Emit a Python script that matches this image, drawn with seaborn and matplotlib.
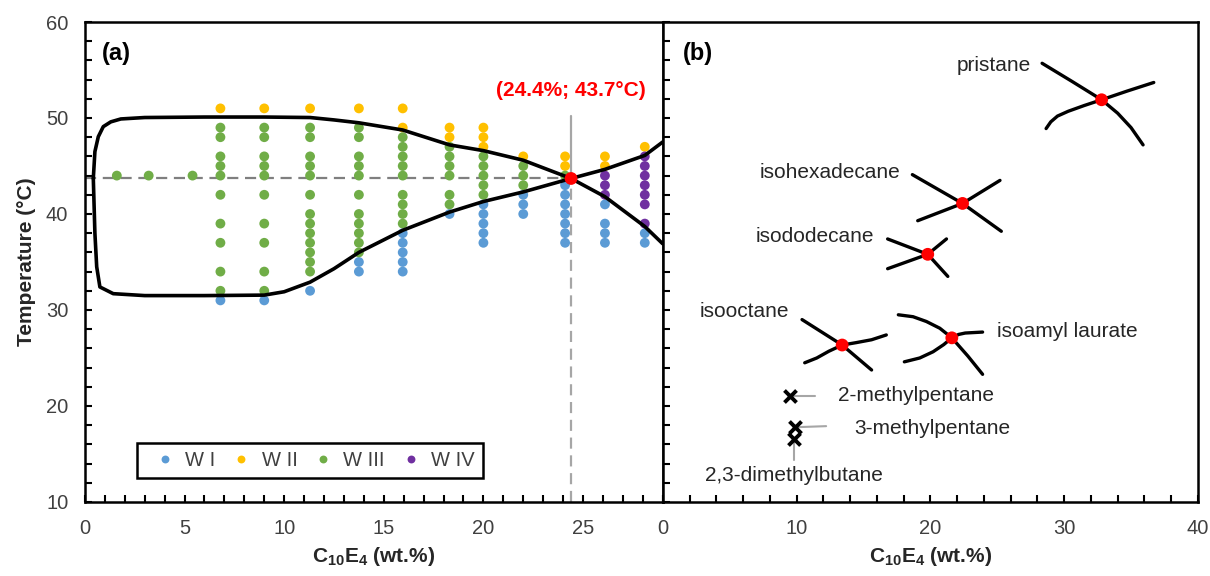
# encoding: UTF-8

import matplotlib
matplotlib.use('Agg')
import matplotlib.pyplot as plt
import seaborn as sns
import pandas as pd
from matplotlib.ticker import MultipleLocator

# ---- panel (a): phase points, one list of temperatures per concentration column
conc = [6.8, 9.0, 11.3, 13.75, 15.95, 18.3, 20.0, 22.0, 24.1, 26.1, 28.1]
tempW1 = [[31], [31], [32], [35, 34], [38, 37, 36, 35, 34], [40],
	[41, 40, 39, 38, 37], [42, 41, 40], [43, 42, 41, 40, 39, 38, 37],
	[41, 39, 38, 37], [38, 37]]
tempW2 = [[51], [51], [51], [51], [51, 49], [49, 48], [49, 48, 47], [46],
	[46, 45], [46, 45], [47]]
tempW3 = [[49, 48, 46, 45, 44, 42, 39, 37, 34, 32],
	[49, 48, 46, 45, 44, 42, 39, 37, 34, 32],
	[49, 48, 46, 45, 44, 42, 40, 39, 38, 37, 36, 35, 34],
	[49, 48, 46, 45, 44, 42, 40, 39, 38, 37, 36],
	[48, 47, 46, 45, 44, 42, 41, 40, 39],
	[47, 46, 45, 44, 42, 41],
	[46, 45, 44, 43, 42],
	[45, 44, 43],
	[44], [], []]
tempW4 = [[], [], [], [], [], [], [], [], [], [44, 43, 42], [46, 45, 44, 43, 42, 41, 39]]
lowConc = [1.6, 3.2, 5.4]
lowTemp = [44, 44, 44]

# phase boundaries
upperConc = [0.42, 0.5, 0.67, 0.92, 1.3, 1.8, 3, 6, 9, 11.3, 12.5, 13.75, 15.95, 18.3, 20.0, 22.0, 24.4, 26.1, 28.1, 29.0]
upperTemp = [43.7, 46.5, 48.05, 49.1, 49.6, 49.9, 50.05, 50.1, 50.1, 50.05, 49.8, 49.5, 48.75, 47.2, 46.6, 45.6, 43.7, 41.8, 38.7, 36.9]
lowerConc = [0.42, 0.5, 0.59, 0.75, 1.42, 3, 6, 9.0, 10.0, 11.3, 12.5, 13.75, 15.95, 18.3, 20.0, 22.0, 24.4, 26.1, 28.1, 29.0]
lowerTemp = [43.7, 38.0, 34.5, 32.4, 31.7, 31.5, 31.5, 31.55, 31.9, 32.9, 34.3, 36.0, 38.3, 40.2, 41.3, 42.3, 43.7, 44.65, 46.1, 47.5]

fishConc = 24.4
fishTemp = 43.7

# ---- panel (b): fish tail points for each oil
oils = ['pristane', 'isohexadecane', 'isododecane', 'isooctane', 'isoamyl laurate']
oilConc = [32.8, 22.4, 19.8, 13.4, 21.6]
oilTemp = [51.9, 41.1, 35.8, 26.35, 27.1]
arm1Conc = [[28.35, 30.6, 32.8, 34.0, 35.0, 35.9], [18.65, 22.4, 25.3], [16.8, 19.8, 21.3],
	[10.4, 13.4, 15.6], [17.6, 18.7, 19.7, 20.7, 21.6, 22.8, 23.9]]
arm1Temp = [[55.7, 53.8, 51.9, 50.5, 49.0, 47.2], [44.1, 41.1, 38.2], [37.4, 35.8, 33.5],
	[29.0, 26.35, 23.75], [29.5, 29.3, 28.8, 28.1, 27.1, 25.2, 23.3]]
arm2Conc = [[28.65, 29.0, 29.5, 30.3, 31.5, 32.8, 34.7, 36.7], [19.05, 22.4, 25.2], [16.8, 19.8, 21.2],
	[10.6, 11.5, 12.4, 13.4, 14.45, 15.6, 16.7], [18.05, 19.2, 20.2, 21.0, 21.6, 22.1, 22.6, 23.9]]
arm2Temp = [[48.9, 49.6, 50.2, 50.7, 51.3, 51.9, 52.8, 53.7], [39.3, 41.1, 43.5], [34.3, 35.8, 37.4],
	[24.5, 25.0, 25.7, 26.35, 26.6, 26.9, 27.4], [24.6, 25.0, 25.65, 26.4, 27.1, 27.45, 27.6, 27.7]]
noFish = ['2-methylpentane', '3-methylpentane', '2,3-dimethylbutane']
noFishConc = [9.5, 9.85, 9.8]
noFishTemp = [21.0, 17.8, 16.6]

phaseColors = {'W I': '#5B9BD5', 'W II': '#FFC000', 'W III': '#70AD47', 'W IV': '#7030A0'}
textColor = '#262626'
tickColor = '#404040'


def longForm(xs, temps, phase):
	rows = []
	for x, ts in zip(xs, temps):
		for t in ts:
			rows.append((x, t, phase))
	return rows


rows = []
rows += longForm(conc, tempW1, 'W I')
rows += longForm(conc, tempW2, 'W II')
rows += longForm(conc, tempW3, 'W III')
rows += longForm(lowConc, [[t] for t in lowTemp], 'W III')
rows += longForm(conc, tempW4, 'W IV')
df = pd.DataFrame(rows, columns=['conc', 'temp', 'phase'])

sns.set_theme(style='ticks')
plt.rcParams['font.family'] = ['Liberation Sans', 'DejaVu Sans']
plt.rcParams['mathtext.fontset'] = 'custom'
plt.rcParams['mathtext.rm'] = 'Liberation Sans'
plt.rcParams['mathtext.bf'] = 'Liberation Sans:bold'

fig = plt.figure(figsize=(12.1, 5.76), dpi=100)
axA = fig.add_axes([0.0702, 0.1285, 0.4775, 0.8333])
axB = fig.add_axes([0.5479, 0.1285, 0.4421, 0.8333])

# ---------------- panel (a)
axA.plot([0, fishConc], [fishTemp, fishTemp], ls=(0, (5, 3)), color='#7f7f7f', lw=1.6, zorder=1)
axA.plot([fishConc, fishConc], [10, fishTemp], ls=(0, (5, 3)), color='#a6a6a6', lw=1.6, zorder=1)
axA.plot([fishConc, fishConc], [fishTemp, 50.2], color='#a6a6a6', lw=1.6, zorder=1)

sns.scatterplot(data=df, x='conc', y='temp', hue='phase', hue_order=list(phaseColors),
	palette=phaseColors, s=50, edgecolor='none', ax=axA, zorder=3)
sns.lineplot(x=upperConc, y=upperTemp, sort=False, estimator=None, color='black', lw=2.6, ax=axA, zorder=4)
sns.lineplot(x=lowerConc, y=lowerTemp, sort=False, estimator=None, color='black', lw=2.6, ax=axA, zorder=4)
axA.scatter([fishConc], [fishTemp], s=85, color='red', edgecolor='none', zorder=5)
axA.text(fishConc, 52.9, '(24.4%; 43.7°C)', color='red', fontweight='bold', fontsize=15,
	ha='center', va='center')
axA.text(0.03, 0.935, '(a)', transform=axA.transAxes, fontweight='bold', fontsize=17,
	ha='left', va='center', color='black')

handles, labels = axA.get_legend_handles_labels()
leg = axA.legend(handles, labels, ncol=4, loc='center', bbox_to_anchor=(0.0727, 0.0458, 0.633, 0.083),
	mode='expand', frameon=True, fancybox=False, edgecolor='black', fontsize=14.5,
	handletextpad=0.0, borderpad=0.4, markerscale=0.8, labelcolor=tickColor, framealpha=1)
leg.get_frame().set_linewidth(1.8)

axA.set_xlim(0, 29)
axA.set_ylim(10, 60)
axA.xaxis.set_major_locator(MultipleLocator(5))
axA.xaxis.set_minor_locator(MultipleLocator(1))
axA.yaxis.set_major_locator(MultipleLocator(10))
axA.yaxis.set_minor_locator(MultipleLocator(2))
axA.set_xlabel(r'$\mathbf{C_{10}E_{4}}$ (wt.%)', fontweight='bold', fontsize=15, labelpad=5)
axA.set_ylabel('Temperature (°C)', fontweight='bold', fontsize=15, labelpad=7)

# ---------------- panel (b)
for i in range(len(oils)):
	sns.lineplot(x=arm1Conc[i], y=arm1Temp[i], sort=False, estimator=None, color='black', lw=2.4,
		solid_capstyle='round', ax=axB)
	sns.lineplot(x=arm2Conc[i], y=arm2Temp[i], sort=False, estimator=None, color='black', lw=2.4,
		solid_capstyle='round', ax=axB)
sns.scatterplot(x=oilConc, y=oilTemp, color='red', s=85, edgecolor='none', ax=axB, zorder=5)

# leader lines for the oils without a fish
axB.plot([noFishConc[0] + 0.3, 11.4], [noFishTemp[0], noFishTemp[0]], color='#a6a6a6', lw=1.5, zorder=1)
axB.plot([noFishConc[1] + 0.3, 12.2], [noFishTemp[1], noFishTemp[1] + 0.1], color='#a6a6a6', lw=1.5, zorder=1)
axB.plot([noFishConc[2], noFishConc[2]], [noFishTemp[2], 14.4], color='#a6a6a6', lw=1.5, zorder=1)
sns.scatterplot(x=noFishConc, y=noFishTemp, marker='x', color='black', s=75, linewidth=2.8, ax=axB, zorder=5)

labelPos = {
	'pristane': (27.5, 55.5, 'right'),
	'isohexadecane': (17.75, 44.3, 'right'),
	'isododecane': (15.8, 37.7, 'right'),
	'isooctane': (9.46, 29.8, 'right'),
	'isoamyl laurate': (25.0, 27.8, 'left'),
	'2-methylpentane': (13.1, 21.1, 'left'),
	'3-methylpentane': (14.3, 17.7, 'left'),
	'2,3-dimethylbutane': (9.8, 12.8, 'center'),
}
for name, (x, y, ha) in labelPos.items():
	axB.text(x, y, name, ha=ha, va='center', fontsize=15, color=textColor)
axB.text(0.037, 0.935, '(b)', transform=axB.transAxes, fontweight='bold', fontsize=17,
	ha='left', va='center', color='black')

axB.set_xlim(0, 40)
axB.set_ylim(10, 60)
axB.xaxis.set_major_locator(MultipleLocator(10))
axB.xaxis.set_minor_locator(MultipleLocator(2))
axB.yaxis.set_major_locator(MultipleLocator(10))
axB.yaxis.set_minor_locator(MultipleLocator(2))
axB.tick_params(axis='y', labelleft=False)
axB.set_xlabel(r'$\mathbf{C_{10}E_{4}}$ (wt.%)', fontweight='bold', fontsize=15, labelpad=5)
axB.set_ylabel('')

for ax in (axA, axB):
	for side in ('top', 'right', 'left', 'bottom'):
		ax.spines[side].set_visible(True)
		ax.spines[side].set_color('black')
		ax.spines[side].set_linewidth(1.8)
	ax.tick_params(which='both', direction='in', length=5, width=1.5, color='black',
		top=False, right=False, left=True, bottom=True)
	ax.tick_params(which='major', labelsize=14.5, labelcolor=tickColor, pad=12)

fig.savefig('out.png', dpi=100)
